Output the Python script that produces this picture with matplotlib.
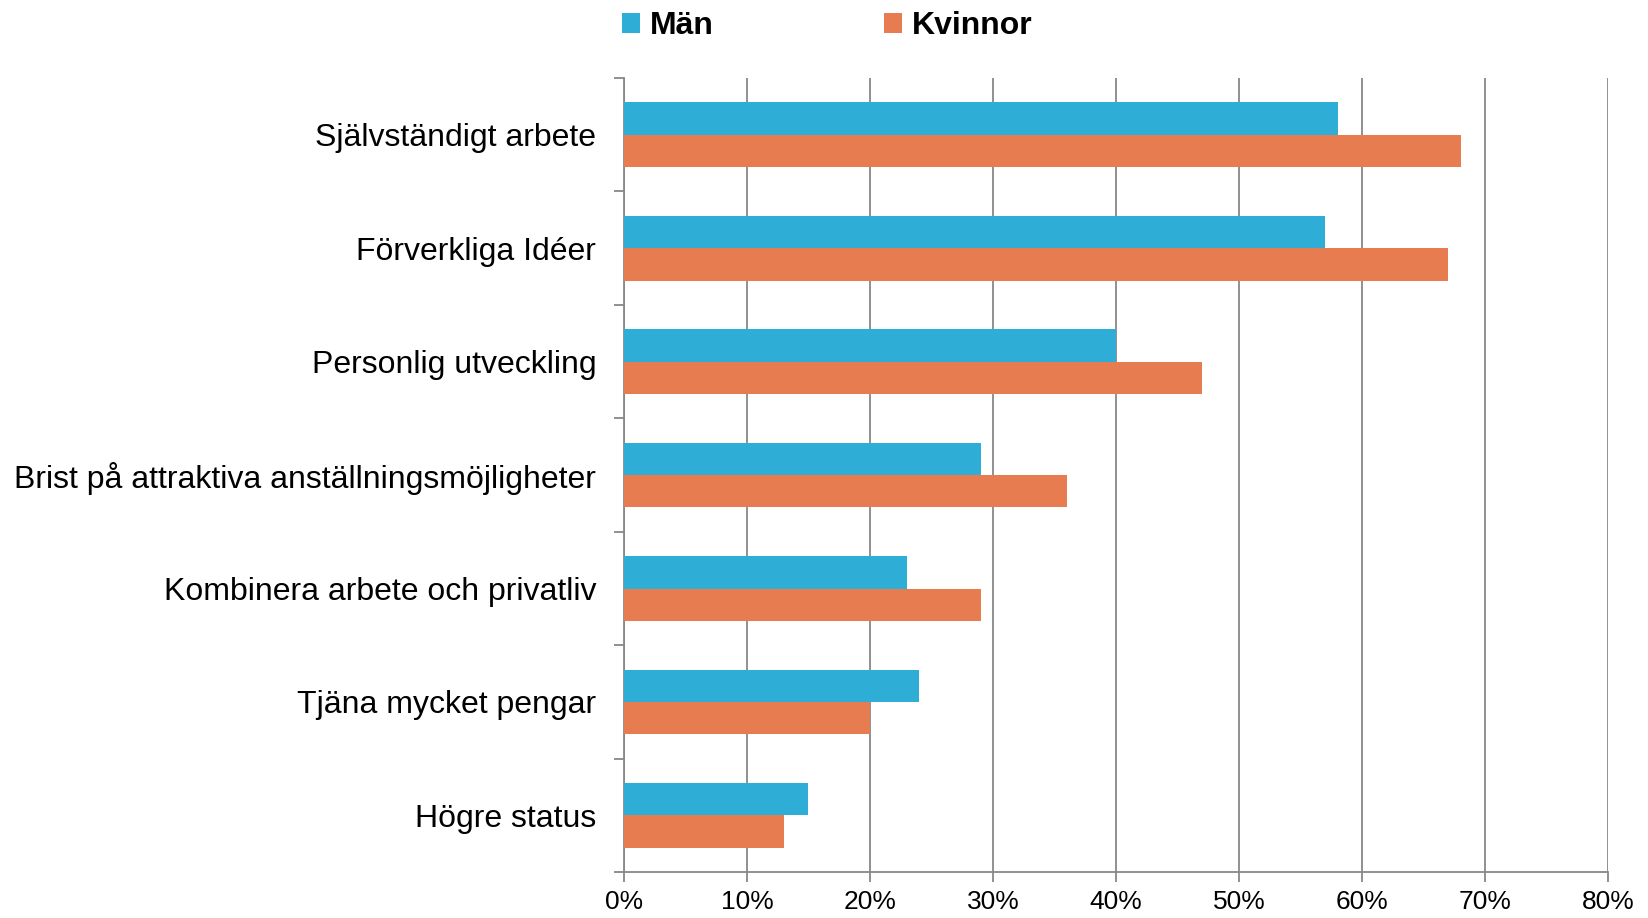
import matplotlib.pyplot as plt
import numpy as np
from matplotlib.ticker import FuncFormatter, FixedLocator

plt.rcParams['font.family'] = ['Liberation Sans', 'DejaVu Sans']

categories = ['Självständigt arbete', 'Förverkliga Idéer', 'Personlig utveckling',
              'Brist på attraktiva anställningsmöjligheter', 'Kombinera arbete och privatliv',
              'Tjäna mycket pengar', 'Högre status']
man = [58, 57, 40, 29, 23, 24, 15]
kvinnor = [68, 67, 47, 36, 29, 20, 13]

blue = '#2EAED6'
orange = '#E67C50'
grey = '#888888'

fig = plt.figure(figsize=(16.48, 9.18), dpi=100)
ax = fig.add_axes([0.3786, 0.050, 0.5973, 0.865])

y = np.arange(len(categories))
h = 0.285
ax.barh(y - h / 2, man, height=h, color=blue, label='Män', zorder=3)
ax.barh(y + h / 2, kvinnor, height=h, color=orange, label='Kvinnor', zorder=3)

ax.set_ylim(len(categories) - 0.5, -0.5)
ax.set_xlim(0, 80)
ax.set_xticks(np.arange(0, 81, 10))
ax.xaxis.set_major_formatter(FuncFormatter(lambda v, p: f'{v:.0f}%'))
ax.set_yticks(y)
ax.set_yticklabels(categories, fontsize=23)
ax.yaxis.set_minor_locator(FixedLocator(np.arange(-0.5, len(categories), 1)))
ax.tick_params(axis='y', which='major', length=0, pad=20)
ax.tick_params(axis='y', which='minor', length=7, width=1.3, color=grey)
ax.tick_params(axis='x', length=7, width=1.3, color=grey, labelsize=19, pad=6)

ax.grid(axis='x', color=grey, linewidth=1.3, zorder=0)
for s in ['top', 'right']:
    ax.spines[s].set_visible(False)
for s in ['left', 'bottom']:
    ax.spines[s].set_color(grey)
    ax.spines[s].set_linewidth(1.3)

fig.legend(loc='upper center', bbox_to_anchor=(0.502, 1.019), ncol=2, frameon=False,
           prop={'weight': 'bold', 'size': 23}, handlelength=0.55, handleheight=0.55,
           handletextpad=0.3, columnspacing=5.35)

fig.savefig('out.png', dpi=100)
